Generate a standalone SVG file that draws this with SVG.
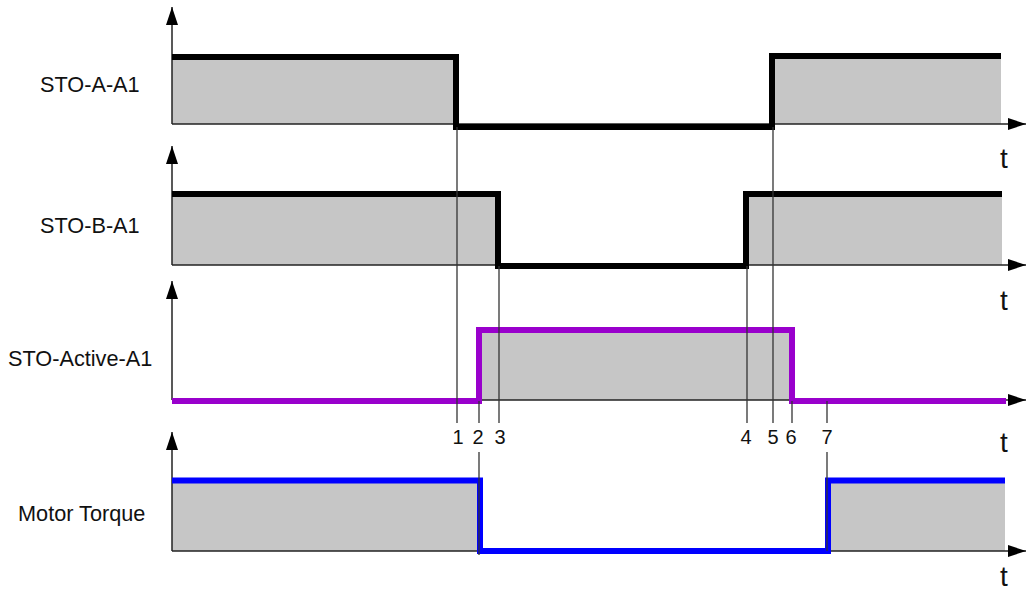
<svg xmlns="http://www.w3.org/2000/svg" width="1026" height="590" viewBox="0 0 1026 590">
<style>
.lbl{font-family:"Liberation Sans",Arial,sans-serif;font-size:21.7px;fill:#111}
.num{font-family:"Liberation Sans",Arial,sans-serif;font-size:20px;fill:#111;text-anchor:middle}
.t{font-family:"Liberation Sans",Arial,sans-serif;font-size:28px;fill:#111;text-anchor:middle}
.fill{fill:#c6c6c6}
.axis{stroke:#222;stroke-width:1.5;fill:none}
.mark{stroke:#333;stroke-width:1.3;fill:none}
.sig{fill:none;stroke-width:6;stroke-linejoin:miter;stroke-linecap:butt}
</style>
<defs>
<marker id="ah" viewBox="0 0 18 12" refX="18" refY="6" markerWidth="18" markerHeight="12" markerUnits="userSpaceOnUse" orient="auto">
<path d="M0,0 L18,6 L0,12 Z" fill="#000"/>
</marker>
</defs>
<rect width="1026" height="590" fill="#fff"/>

<g id="panel-sto-a">
<rect class="fill" x="172" y="57" width="284" height="67"/>
<rect class="fill" x="772" y="57" width="229" height="67"/>
<line class="axis" x1="172" y1="124" x2="172" y2="7" marker-end="url(#ah)"/>
<line class="axis" x1="172" y1="124" x2="1026" y2="124" marker-end="url(#ah)"/>
<path class="sig" stroke="#000" d="M172,57 H456 V127 H772 V56 H1001"/>
<text class="lbl" x="40" y="92">STO-A-A1</text>
<text class="t" x="1004" y="168">t</text>
</g>

<g id="panel-sto-b">
<rect class="fill" x="172" y="194" width="326" height="71"/>
<rect class="fill" x="746" y="194" width="256" height="71"/>
<line class="axis" x1="172" y1="265" x2="172" y2="146" marker-end="url(#ah)"/>
<line class="axis" x1="172" y1="265" x2="1026" y2="265" marker-end="url(#ah)"/>
<path class="sig" stroke="#000" d="M172,194 H498 V266 H746 V194 H1002"/>
<text class="lbl" x="40" y="233">STO-B-A1</text>
<text class="t" x="1004" y="310">t</text>
</g>

<g id="panel-sto-active">
<rect class="fill" x="479" y="330" width="313" height="70"/>
<line class="axis" x1="172" y1="400" x2="172" y2="281" marker-end="url(#ah)"/>
<line class="axis" x1="172" y1="400" x2="1026" y2="400" marker-end="url(#ah)"/>
<path class="sig" stroke="#9900cc" d="M172,401 H479 V330 H792 V401 H1006"/>
<text class="lbl" x="8" y="366">STO-Active-A1</text>
<text class="t" x="1004" y="452">t</text>
</g>

<g id="panel-motor">
<rect class="fill" x="172" y="480" width="308" height="71"/>
<rect class="fill" x="828" y="480" width="177" height="71"/>
<line class="axis" x1="172" y1="551" x2="172" y2="432" marker-end="url(#ah)"/>
<line class="axis" x1="172" y1="551" x2="1026" y2="551" marker-end="url(#ah)"/>
<path class="sig" stroke="#0000ff" d="M172,480.5 H480 V551 H828 V480.5 H1005"/>
<text class="lbl" x="18" y="521">Motor Torque</text>
<text class="t" x="1004" y="586">t</text>
</g>

<g id="connectors">
<line class="mark" x1="457" y1="127" x2="457" y2="423"/>
<line class="mark" x1="479" y1="401" x2="479" y2="423"/>
<line class="mark" x1="479" y1="452" x2="479" y2="555"/>
<line class="mark" x1="499" y1="266" x2="499" y2="423"/>
<line class="mark" x1="747" y1="266" x2="747" y2="423"/>
<line class="mark" x1="773" y1="127" x2="773" y2="423"/>
<line class="mark" x1="792" y1="401" x2="792" y2="423"/>
<line class="mark" x1="827" y1="401" x2="827" y2="423"/>
<line class="mark" x1="827" y1="452" x2="827" y2="551"/>
</g>

<g id="markers">
<text class="num" x="458" y="444">1</text>
<text class="num" x="478" y="444">2</text>
<text class="num" x="500" y="444">3</text>
<text class="num" x="746" y="444">4</text>
<text class="num" x="773" y="444">5</text>
<text class="num" x="791" y="444">6</text>
<text class="num" x="827" y="444">7</text>
</g>
</svg>
